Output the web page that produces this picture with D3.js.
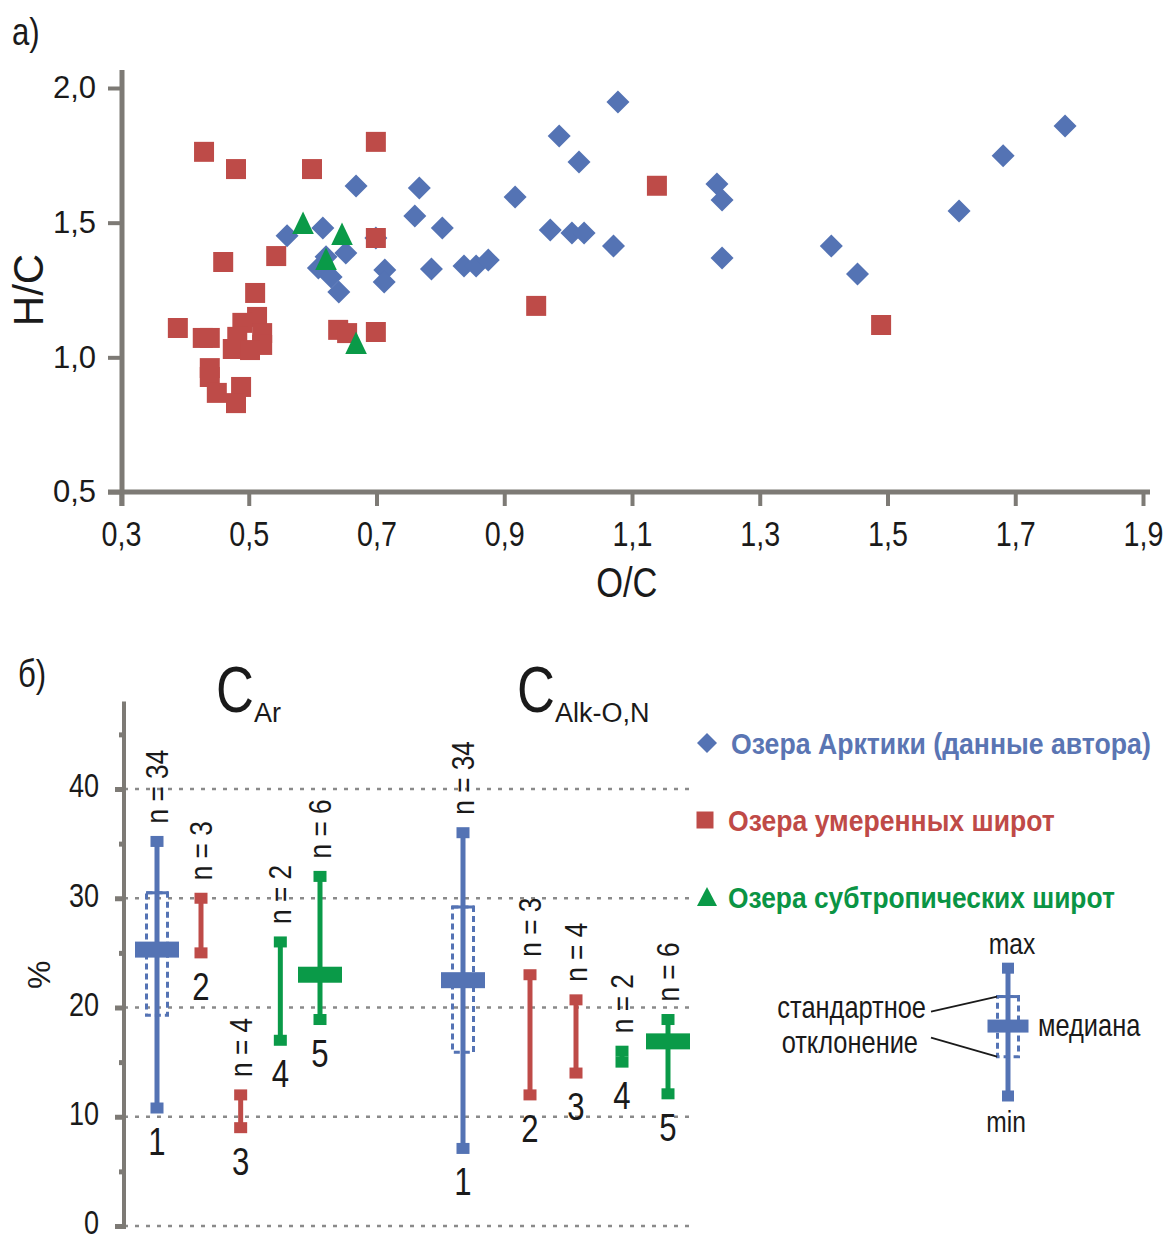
<!DOCTYPE html>
<html><head><meta charset="utf-8">
<script src="https://cdn.jsdelivr.net/npm/d3@7"></script>
<style>body{margin:0;background:#fff} svg{display:block}</style>
</head><body><svg id="c" width="1174" height="1241"></svg>
<script>
// ---------- Panel a) data: O/C vs H/C ----------
const arcticOC = [0.560,0.616,0.609,0.629,0.641,0.652,0.668,0.713,0.712,0.767,0.760,0.803,0.786,0.837,0.856,0.875,0.917,0.972,0.986,1.006,1.017,1.025,1.071,1.078,1.233,1.241,1.241,1.412,1.453,1.612,1.681,1.778,0.621,0.699];
const arcticHC = [1.451,1.480,1.332,1.298,1.243,1.387,1.636,1.324,1.280,1.629,1.525,1.480,1.328,1.339,1.339,1.361,1.595,1.473,1.822,1.462,1.725,1.462,1.413,1.948,1.644,1.584,1.369,1.413,1.309,1.543,1.748,1.859,1.373,1.443];
const temperateOC = [0.430,0.480,0.599,0.699,1.139,0.699,0.950,1.490,0.460,0.543,0.510,0.389,0.428,0.439,0.513,0.490,0.482,0.521,0.521,0.475,0.502,0.439,0.439,0.450,0.488,0.480,0.640,0.654,0.699];
const temperateHC = [1.763,1.699,1.699,1.800,1.637,1.443,1.191,1.120,1.354,1.376,1.239,1.109,1.072,1.072,1.150,1.128,1.076,1.090,1.046,1.031,1.027,0.960,0.927,0.868,0.890,0.830,1.102,1.090,1.094];
const subtropOC = [0.585,0.646,0.621,0.668];
const subtropHC = [1.499,1.458,1.365,1.053];
const ocTicks = [0.3,0.5,0.7,0.9,1.1,1.3,1.5,1.7,1.9];
const hcTicks = [0.5,1.0,1.5,2.0];

// ---------- Panel б) data: ranges (%) ----------
const groupIds = [1,2,3,4,5];
const groupN = [34,3,4,2,6];
const groupRegion = ["arctic","temperate","temperate","subtropical","subtropical"];
const carMax    = [35.2,30.0,12.0,26.0,32.0];
const carMin    = [10.8,25.0, 9.0,17.0,18.9];
const carMedian = [25.3,null,null,null,23.0];
const carSdHi   = [30.5,null,null,null,null];
const carSdLo   = [19.3,null,null,null,null];
const calkMax    = [36.0,23.0,20.7,16.0,18.9];
const calkMin    = [ 7.1,12.0,14.0,15.0,12.1];
const calkMedian = [22.5,null,null,null,16.9];
const calkSdHi   = [29.2,null,null,null,null];
const calkSdLo   = [15.9,null,null,null,null];
const pctMajorTicks = [0,10,20,30,40];
const pctMinorTicks = [5,15,25,35,45];
const legendRegions = ["arctic","temperate","subtropical"];
const legendLabels = ["Озера Арктики (данные автора)","Озера умеренных широт","Озера субтропических широт"];
const exampleStats = {max:23.6, sdHi:21.0, median:18.3, sdLo:15.5, min:11.9};

// ---------- style ----------
const REG = "'Liberation Sans',Arial,sans-serif";
const NX = 0.82; // horizontal squeeze to emulate a narrow face
const COL = {arctic:"#5473b4", temperate:"#be4b48", subtropical:"#0a9a48"};
const TXTCOL = {arctic:"#5a75b3", temperate:"#bf4a47", subtropical:"#0a9444"};
const AX = "#7d7a75";
const INK = "#1a1a1a";
const comma = d => d3.format(".1f")(d).replace(".", ",");

const svg = d3.select("#c");
svg.append("rect").attr("width",1174).attr("height",1241).attr("fill","#fff");

function ntext(parent, px, py, str, size, anchor, rot){
  const g = parent.append("g").attr("transform",`translate(${px},${py})${rot?` rotate(${rot})`:""} scale(${NX},1)`);
  return g.append("text").attr("text-anchor",anchor||"start").attr("font-family",REG)
    .attr("font-size",size).attr("fill",INK).text(str);
}

// ================= Panel a =================
const x = d3.scaleLinear().domain([0.3,1.9]).range([121,1143]);
const y = d3.scaleLinear().domain([0.5,2.0]).range([492,88]);

ntext(svg, 12, 45, "a)", 38);

const gy = svg.append("g").attr("transform",`translate(${x(0.3)+1},0)`)
  .call(d3.axisLeft(y).tickValues(hcTicks).tickSize(14).tickSizeOuter(0).tickPadding(12).tickFormat(comma));
gy.select(".domain").remove();
gy.selectAll(".tick line").attr("stroke",AX).attr("stroke-width",4);
gy.selectAll(".tick text").attr("font-family",REG).attr("font-size",31).attr("fill",INK);

const gx = svg.append("g").attr("transform",`translate(0,${y(0.5)})`)
  .call(d3.axisBottom(x).tickValues(ocTicks).tickSize(14).tickSizeOuter(0).tickPadding(15).tickFormat(comma));
gx.select(".domain").remove();
gx.selectAll(".tick line").attr("stroke",AX).attr("stroke-width",4);
gx.selectAll(".tick text").attr("font-family",REG).attr("font-size",35).attr("fill",INK)
  .attr("transform",`scale(${NX},1)`);

svg.append("line").attr("x1",x(0.3)+1).attr("x2",x(0.3)+1).attr("y1",y(2.0)-18).attr("y2",y(0.5)+14)
  .attr("stroke",AX).attr("stroke-width",5);
svg.append("line").attr("x1",x(0.3)-13).attr("x2",x(1.9)+7).attr("y1",y(0.5)).attr("y2",y(0.5))
  .attr("stroke",AX).attr("stroke-width",5);

svg.append("text").attr("transform",`translate(43,${(y(1.5)+y(1.0))/2}) rotate(-90)`)
  .attr("text-anchor","middle").attr("font-family",REG).attr("font-size",42).attr("fill",INK).text("H/C");
ntext(svg, (x(1.1)+x(1.3))/2 - 69, 597, "O/C", 42, "middle");

const diamondPath = "M0,-11.5L11.5,0L0,11.5L-11.5,0Z";
const trianglePath = "M0,-11.5L10.8,11L-10.8,11Z";
const squarePath = "M-10,-10H10V10H-10Z";

svg.append("g").selectAll("path").data(d3.range(arcticOC.length)).join("path")
  .attr("d",diamondPath).attr("fill",COL.arctic)
  .attr("transform",i=>`translate(${x(arcticOC[i])},${y(arcticHC[i])})`);
svg.append("g").selectAll("path").data(d3.range(temperateOC.length)).join("path")
  .attr("d",squarePath).attr("fill",COL.temperate)
  .attr("transform",i=>`translate(${x(temperateOC[i])},${y(temperateHC[i])})`);
svg.append("g").selectAll("path").data(d3.range(subtropOC.length)).join("path")
  .attr("d",trianglePath).attr("fill",COL.subtropical)
  .attr("transform",i=>`translate(${x(subtropOC[i])},${y(subtropHC[i])})`);

// ================= Panel б =================
const yp = d3.scaleLinear().domain([0,48]).range([1226, 1226-48*10.925]);
const axX = 124;
const gridRight = 690;

ntext(svg, 18, 687, "б)", 38);

svg.append("g").selectAll("line").data(pctMajorTicks).join("line")
  .attr("x1",axX).attr("x2",gridRight).attr("y1",d=>yp(d)).attr("y2",d=>yp(d))
  .attr("stroke","#8a8a8a").attr("stroke-width",2.5).attr("stroke-dasharray","4,7");

const gpa = svg.append("g").attr("transform",`translate(${axX},0)`)
  .call(d3.axisLeft(yp).tickValues(pctMajorTicks).tickSize(9).tickSizeOuter(0).tickPadding(16).tickFormat(d3.format("d")));
gpa.select(".domain").remove();
gpa.selectAll(".tick line").attr("stroke",AX).attr("stroke-width",5);
gpa.selectAll(".tick text").attr("font-family",REG).attr("font-size",33).attr("fill",INK)
  .attr("dy","0.24em").attr("x",-25/NX).attr("transform",`scale(${NX},1)`);
const gpm = svg.append("g").attr("transform",`translate(${axX},0)`)
  .call(d3.axisLeft(yp).tickValues(pctMinorTicks).tickSize(5).tickSizeOuter(0).tickFormat(""));
gpm.select(".domain").remove();
gpm.selectAll(".tick line").attr("stroke",AX).attr("stroke-width",5);
svg.append("line").attr("x1",axX).attr("x2",axX).attr("y1",yp(48)).attr("y2",yp(0)+3)
  .attr("stroke",AX).attr("stroke-width",4);

svg.append("text").attr("transform",`translate(50,${yp(23)}) rotate(-90)`).attr("text-anchor","middle")
  .attr("font-family",REG).attr("font-size",32).attr("fill",INK).text("%");

function title(xp, sub){
  ntext(svg, xp, 712, "C", 64);
  svg.append("text").attr("x",xp+38).attr("y",722).attr("font-family",REG).attr("font-size",27)
    .attr("fill",INK).text(sub);
}
title(216,"Ar");
title(517,"Alk-O,N");

const xAr = d3.scaleLinear().domain([1,2,5]).range([157,201,320]);
const xAlk = d3.scaleLinear().domain([1,2,5]).range([463,530,668]);

function drawRange(g, cx, color, s, opt){
  const capW = opt.capW, capH = opt.capH;
  g.append("line").attr("x1",cx).attr("x2",cx).attr("y1",yp(s.max)).attr("y2",yp(s.min))
    .attr("stroke",color).attr("stroke-width",5);
  if (s.sdHi != null){
    g.append("rect").attr("x",cx-10.5).attr("width",21).attr("y",yp(s.sdHi)).attr("height",yp(s.sdLo)-yp(s.sdHi))
      .attr("fill","none").attr("stroke",color).attr("stroke-width",3).attr("stroke-dasharray","6,4");
    g.append("line").attr("x1",cx-11).attr("x2",cx+11).attr("y1",yp(s.sdHi)).attr("y2",yp(s.sdHi))
      .attr("stroke",color).attr("stroke-width",3);
  }
  if (s.median != null){
    g.append("rect").attr("x",cx-opt.medW/2).attr("width",opt.medW).attr("y",yp(s.median)-opt.medH/2).attr("height",opt.medH)
      .attr("fill",color);
  }
  [s.max, s.min].forEach(v=>{
    g.append("rect").attr("x",cx-capW/2).attr("width",capW).attr("y",yp(v)-capH/2).attr("height",capH).attr("fill",color);
  });
}

function drawPanel(xs, maxA, minA, medA, hiA, loA){
  const g = svg.append("g");
  groupIds.forEach((id,i)=>{
    const cx = xs(id);
    const color = COL[groupRegion[i]];
    drawRange(g, cx, color, {max:maxA[i],min:minA[i],median:medA[i],sdHi:hiA[i],sdLo:loA[i]},
      {capW:13, capH:11, medW:44, medH:16});
    ntext(g, cx+11, yp(maxA[i])-18, `n = ${groupN[i]}`, 32, "start", -90);
    ntext(g, cx, yp(minA[i])+47, String(id), 38, "middle");
  });
}
drawPanel(xAr, carMax, carMin, carMedian, carSdHi, carSdLo);
drawPanel(xAlk, calkMax, calkMin, calkMedian, calkSdHi, calkSdLo);

const ly = d3.scalePoint().domain(legendRegions).range([743,897]);
const legendShape = {arctic:"M0,-10L10,0L0,10L-10,0Z", temperate:"M-8.5,-8.5H8.5V8.5H-8.5Z", subtropical:"M0,-10L10,9L-10,9Z"};
const legendLen = {arctic:420, temperate:327, subtropical:387};
legendRegions.forEach((r,i)=>{
  svg.append("path").attr("d",legendShape[r]).attr("fill",COL[r])
    .attr("transform",`translate(${r==="temperate"?705:707},${ly(r)})`);
  const g = svg.append("g");
  const t = g.append("text").attr("font-family",REG).attr("font-weight","bold").attr("font-size",30)
    .attr("fill",TXTCOL[r]).text(legendLabels[i]);
  const natural = t.node().getComputedTextLength() || legendLen[r];
  g.attr("transform",`translate(${r==="arctic"?731:728},${ly(r)+11}) scale(${legendLen[r]/natural},1)`);
});

const ex = svg.append("g");
const exX = 1008;
drawRange(ex, exX, COL.arctic, exampleStats, {capW:12, capH:11, medW:41, medH:13});
ntext(ex, exX+4, yp(exampleStats.max)-14, "max", 30, "middle");
ntext(ex, exX-2, yp(exampleStats.min)+36, "min", 30, "middle");
ntext(ex, exX+30, yp(exampleStats.median)+10, "медиана", 31, "start");
ntext(ex, 926, yp(exampleStats.sdHi)+21, "стандартное", 31, "end");
ntext(ex, 918, yp(exampleStats.sdLo)-4, "отклонение", 31, "end");
ex.append("line").attr("x1",931).attr("y1",yp(exampleStats.sdHi)+15).attr("x2",exX-11).attr("y2",yp(exampleStats.sdHi))
  .attr("stroke",INK).attr("stroke-width",1.8);
ex.append("line").attr("x1",931).attr("y1",yp(exampleStats.sdLo)-19).attr("x2",exX-11).attr("y2",yp(exampleStats.sdLo))
  .attr("stroke",INK).attr("stroke-width",1.8);
</script>
</body></html>
